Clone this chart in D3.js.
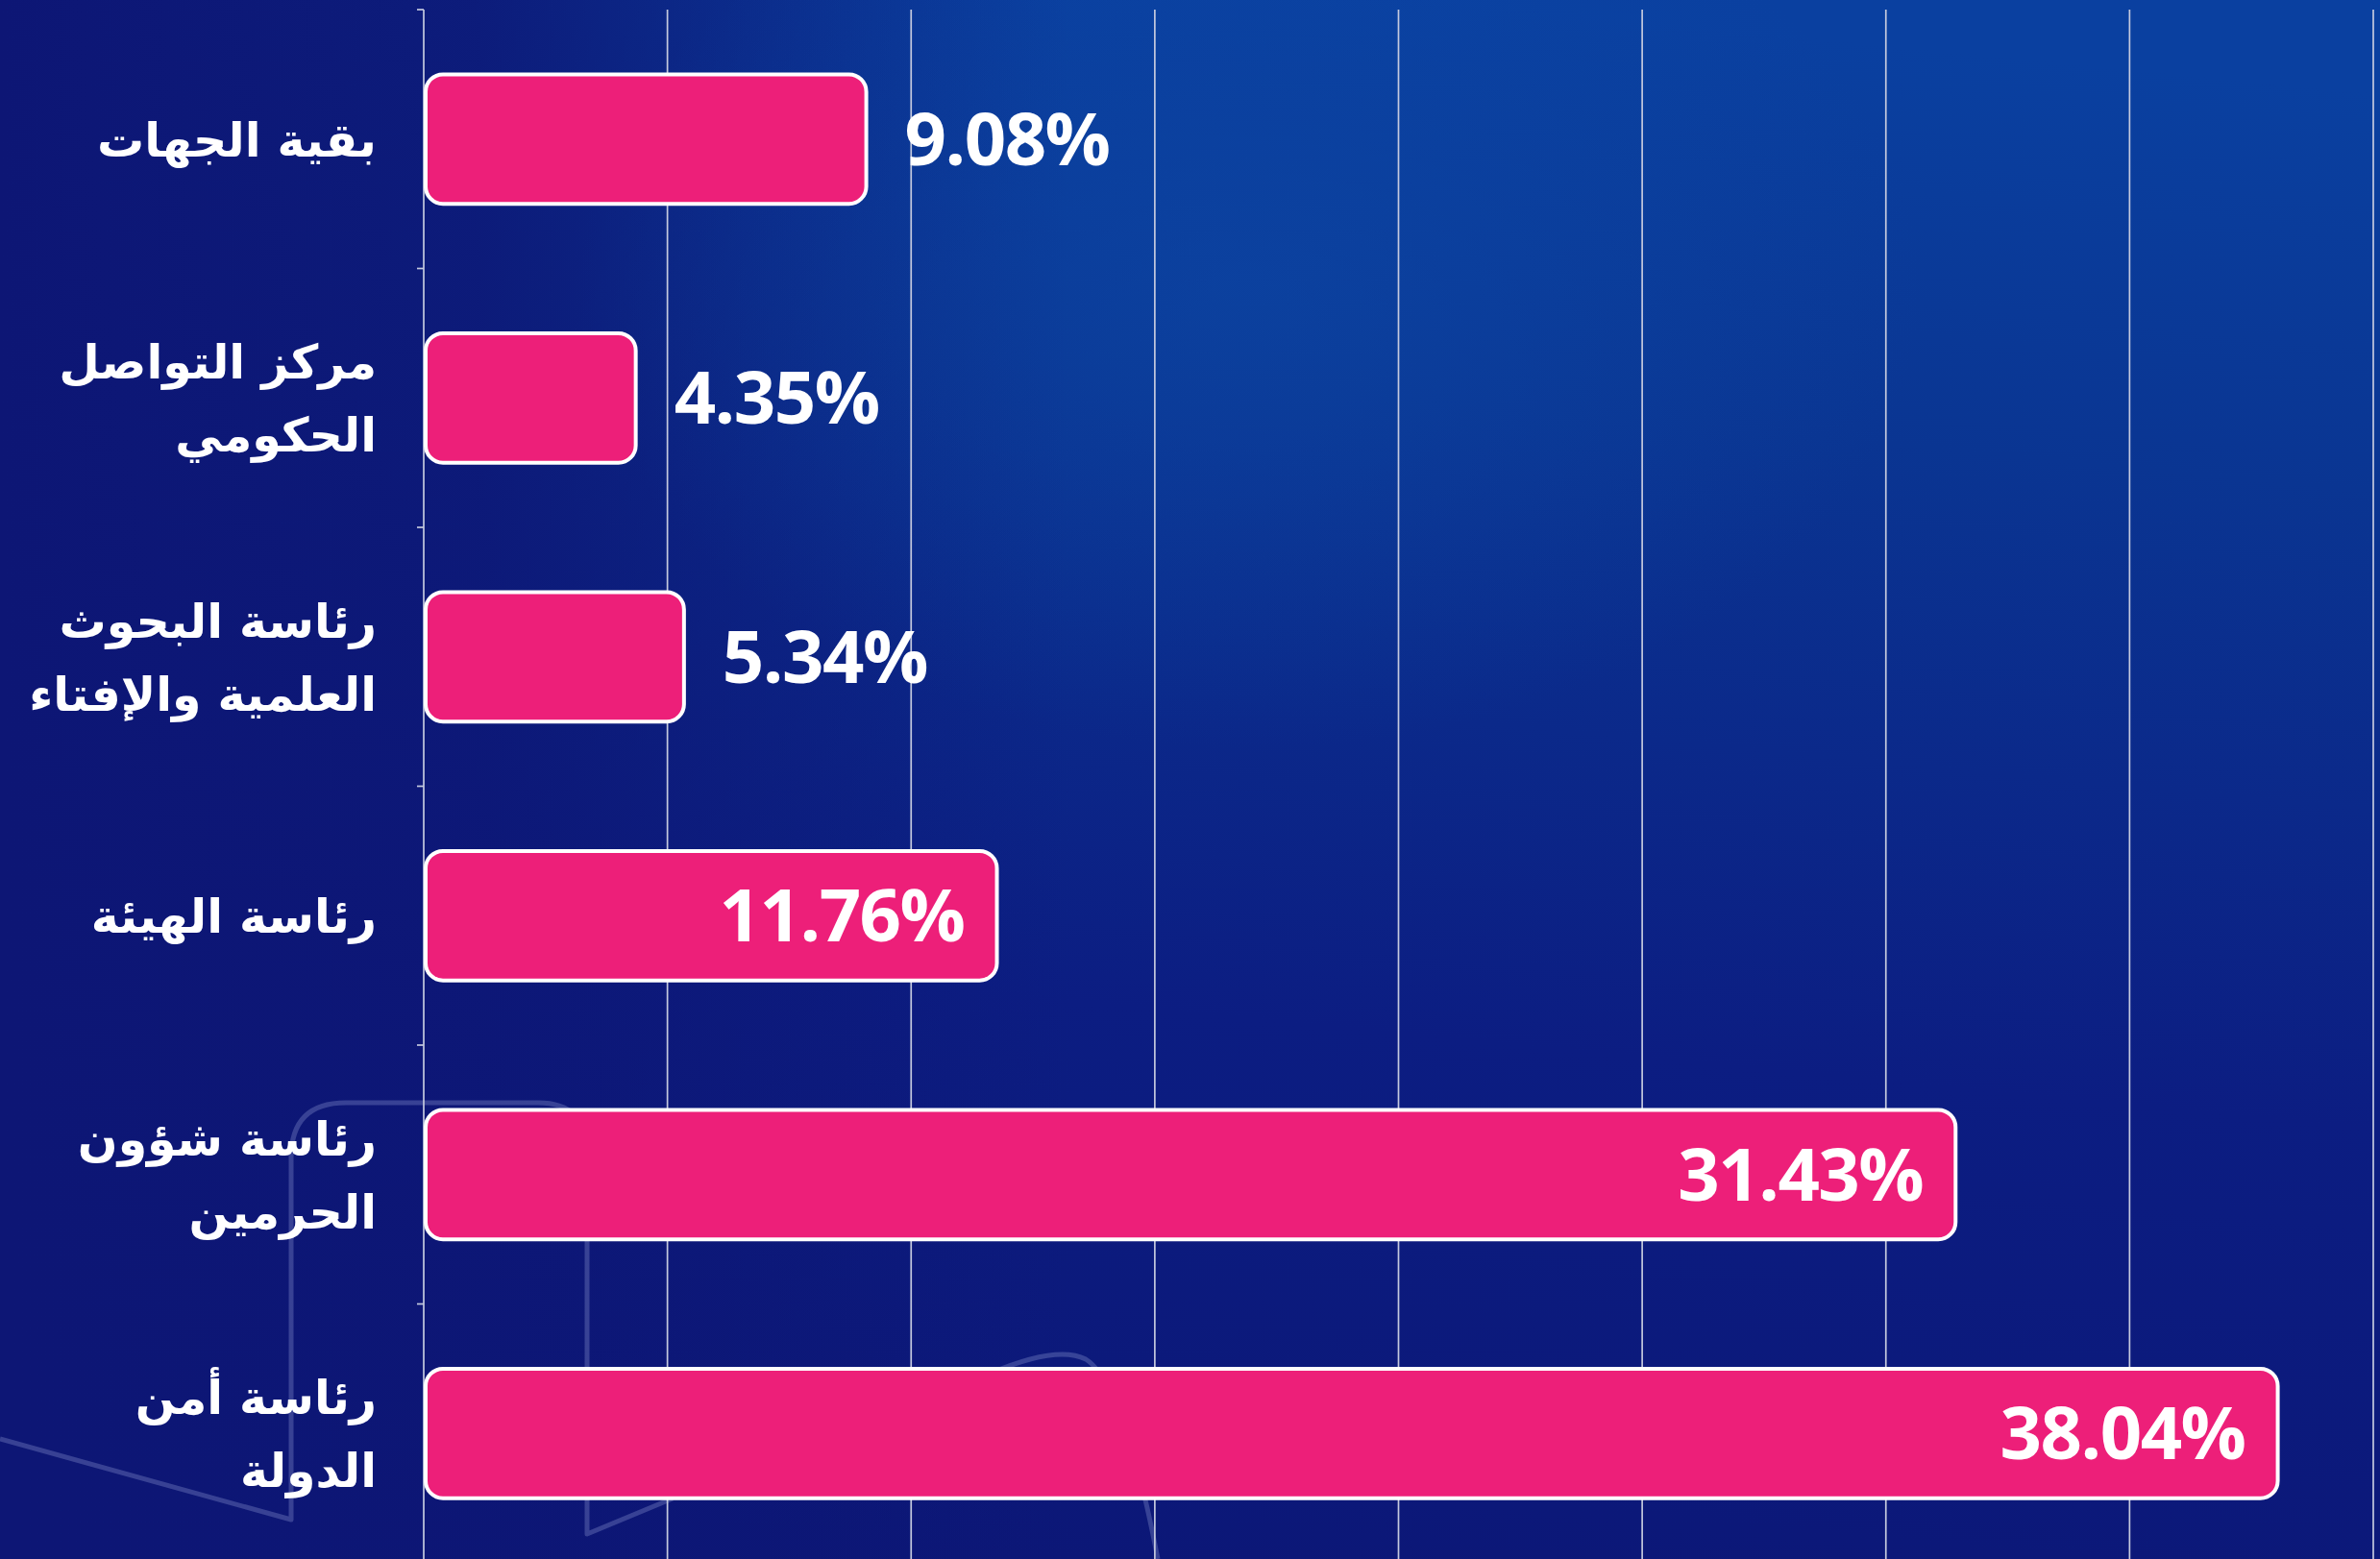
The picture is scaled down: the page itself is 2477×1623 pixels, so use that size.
<!DOCTYPE html>
<html>
<head>
<meta charset="utf-8">
<script src="https://cdn.jsdelivr.net/npm/d3@7"></script>
<style>
  html, body { margin: 0; padding: 0; background: #0d1877; }
  svg { display: block; }
</style>
</head>
<body>
<svg id="chart"></svg>
<script>
// data
var categories = ["بقية الجهات", "مركز التواصل الحكومي", "رئاسة البحوث العلمية والإفتاء", "رئاسة الهيئة", "رئاسة شؤون الحرمين", "رئاسة أمن الدولة"];
var labelLines = [["بقية الجهات"], ["مركز التواصل", "الحكومي"], ["رئاسة البحوث", "العلمية والإفتاء"], ["رئاسة الهيئة"], ["رئاسة شؤون", "الحرمين"], ["رئاسة أمن", "الدولة"]];
var values = [9.08, 4.35, 5.34, 11.76, 31.43, 38.04];
var xTicks = [0, 5, 10, 15, 20, 25, 30, 35, 40];

var width = 2477, height = 1623;
var svg = d3.select("#chart").attr("width", width).attr("height", height);

// background: lighter blue at the top right, dark navy to the left and bottom
var defs = svg.append("defs");
var bg = defs.append("linearGradient").attr("id", "bg")
  .attr("x1", "0.45").attr("y1", "1").attr("x2", "0.6").attr("y2", "0");
bg.append("stop").attr("offset", "0").attr("stop-color", "#0c1777");
bg.append("stop").attr("offset", "0.35").attr("stop-color", "#0c1d82");
bg.append("stop").attr("offset", "0.75").attr("stop-color", "#0a3592");
bg.append("stop").attr("offset", "1").attr("stop-color", "#0a40a0");
var side = defs.append("linearGradient").attr("id", "side")
  .attr("x1", "0").attr("y1", "0").attr("x2", "1").attr("y2", "0");
side.append("stop").attr("offset", "0").attr("stop-color", "#0d1675").attr("stop-opacity", 1);
side.append("stop").attr("offset", "0.2").attr("stop-color", "#0d1675").attr("stop-opacity", 0.85);
side.append("stop").attr("offset", "0.45").attr("stop-color", "#0d1675").attr("stop-opacity", 0);
var glow = defs.append("radialGradient").attr("id", "glow")
  .attr("cx", "0.5").attr("cy", "0.5").attr("r", "0.5");
glow.append("stop").attr("offset", "0").attr("stop-color", "#0d4aa8").attr("stop-opacity", 0.5);
glow.append("stop").attr("offset", "1").attr("stop-color", "#0d4aa8").attr("stop-opacity", 0);

svg.append("rect").attr("width", width).attr("height", height).attr("fill", "url(#bg)");
svg.append("rect").attr("width", width).attr("height", height).attr("fill", "url(#side)");
svg.append("ellipse").attr("cx", 1300).attr("cy", 300).attr("rx", 700).attr("ry", 480).attr("fill", "url(#glow)");

// faint decoration lines
var deco = svg.append("g").attr("fill", "none")
  .attr("stroke", "rgba(170,180,230,0.28)").attr("stroke-width", 5)
  .attr("stroke-linejoin", "round");
deco.append("path").attr("d", "M0,1498 L303,1582 L303,1205 Q303,1148 360,1148 L560,1148 Q611,1148 611,1200 L611,1597 L700,1560");
deco.append("path").attr("d", "M1030,1430 Q1100,1400 1130,1415 Q1170,1440 1205,1623");

var margin = { top: 10, left: 441 };
var x = d3.scaleLinear().domain([0, 40]).range([margin.left, 2470]);
var y = d3.scaleBand().domain(categories)
  .range([margin.top, margin.top + 6 * 269.5])
  .paddingInner(0.5).paddingOuter(0.25);

// gridlines
svg.append("g").selectAll("line")
  .data(xTicks.slice(1))
  .enter().append("line")
  .attr("x1", function (d) { return x(d); })
  .attr("x2", function (d) { return x(d); })
  .attr("y1", margin.top)
  .attr("y2", height)
  .attr("stroke", "#c4c9de")
  .attr("stroke-width", 1.7);

// y axis line + boundary ticks
var axis = svg.append("g").attr("stroke", "#c4c9de").attr("stroke-width", 1.7);
axis.append("line").attr("x1", x(0)).attr("x2", x(0)).attr("y1", margin.top).attr("y2", height);
var step = y.step();
axis.selectAll("line.tick")
  .data(d3.range(categories.length + 1))
  .enter().append("line")
  .attr("class", "tick")
  .attr("x1", x(0) - 7).attr("x2", x(0))
  .attr("y1", function (i) { return margin.top + i * step; })
  .attr("y2", function (i) { return margin.top + i * step; });

// bars
svg.append("g").selectAll("rect")
  .data(values)
  .enter().append("rect")
  .attr("x", x(0) + 2)
  .attr("y", function (d, i) { return y(categories[i]); })
  .attr("width", function (d) { return x(d) - x(0) - 2; })
  .attr("height", y.bandwidth())
  .attr("rx", 18).attr("ry", 18)
  .attr("fill", "#ed1f79")
  .attr("stroke", "#ffffff")
  .attr("stroke-width", 4);

// value labels
svg.append("g").selectAll("text")
  .data(values)
  .enter().append("text")
  .attr("x", function (d) { return d > 10 ? x(d) - 34 : x(d) + 40; })
  .attr("y", function (d, i) { return y(categories[i]) + y.bandwidth() / 2 + 27; })
  .attr("text-anchor", function (d) { return d > 10 ? "end" : "start"; })
  .attr("font-family", "'Open Sans', 'Noto Sans', sans-serif")
  .attr("font-weight", 700)
  .attr("font-size", 76)
  .attr("letter-spacing", -1.5)
  .attr("fill", "#ffffff")
  .text(function (d) { return d.toFixed(2) + "%"; });

// category labels
var labels = svg.append("g").selectAll("text")
  .data(labelLines)
  .enter().append("text")
  .attr("text-anchor", "end")
  .attr("font-family", "'DejaVu Sans', sans-serif")
  .attr("font-weight", 700)
  .attr("font-size", 49)
  .attr("fill", "#ffffff");
labels.each(function (lines, i) {
  var cy = y(categories[i]) + y.bandwidth() / 2;
  var t = d3.select(this);
  lines.forEach(function (line, j) {
    t.append("tspan")
      .attr("x", 392)
      .attr("y", cy + 18 + (j - (lines.length - 1) / 2) * 76)
      .text(line);
  });
});
</script>
</body>
</html>
